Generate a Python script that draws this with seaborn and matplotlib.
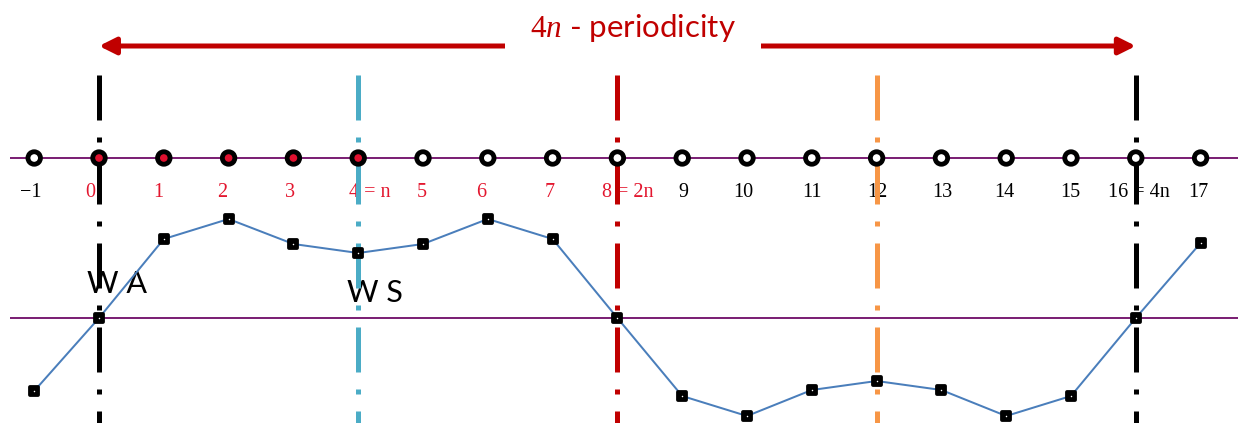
import matplotlib
matplotlib.use("Agg")
import matplotlib.pyplot as plt
from matplotlib.markers import MarkerStyle
from matplotlib.patches import FancyArrowPatch
import numpy as np
import pandas as pd
import seaborn as sns

# ---- data -------------------------------------------------------------
sample_index = [-1, 0, 1, 2, 3, 4, 5, 6, 7, 8, 9, 10, 11, 12, 13, 14, 15, 16, 17]
signal = [-0.73, 0.0, 0.79, 0.99, 0.74, 0.65, 0.74, 0.99, 0.79, 0.0,
          -0.78, -0.98, -0.72, -0.63, -0.72, -0.98, -0.78, 0.0, 0.75]
tick_labels = ["\u22121", "0", "1", "2", "3", "4 = n", "5", "6", "7", "8 = 2n",
               "9", "10", "11", "12", "13", "14", "15", "16 = 4n", "17"]
window = [False, True, True, True, True, True, False, False, False, False,
          False, False, False, False, False, False, False, False, False]
label_in_period = [False] + [True] * 9 + [False] * 9
marker_lines = [0, 4, 8, 12, 16]
marker_line_colors = ["#000000", "#4BACC6", "#C00000", "#F79646", "#000000"]
period_start, period_end = 0, 16
point_annotations = [("W A", 0), ("W S", 4)]

# ---- layout (axes units: 1 sample step horizontally, 100 px vertically) ---
PX = 64.8                       # pixels per sample step
X0 = 99.0                       # pixel column of sample 0
def px_x(p):
    return (p - X0) / PX
def px_y(p):
    return (318.0 - p) / 100.0

label_dx = [-3, -9, -6, -6, -3, 12, -1, -7, -3, 10, 1, -4, 0, 1, 1, -2, -1, 3, -2]
annot_pos = {"W A": (87, 293), "W S": (347, 302)}

RED = "#C00000"
LABEL_RED = "#E3172F"
FILL_RED = "#E0102F"
PURPLE = "#7C2275"
BLUE = "#4A7EBB"

sns.set_theme(style="white")
plt.rcParams["lines.scale_dashes"] = False
plt.rcParams["mathtext.fontset"] = "custom"
plt.rcParams["mathtext.it"] = "Liberation Serif:italic"
plt.rcParams["mathtext.rm"] = "Liberation Serif"

fig = plt.figure(figsize=(12.41, 4.23), dpi=100)
ax = fig.add_axes([0, 0, 1, 1])
ax.set_xlim(px_x(0), px_x(1241))
ax.set_ylim(px_y(423), px_y(0))
ax.set_axis_off()

line_y = px_y(158)
pt = 100 / 72.0  # px per point

# horizontal axes of the two rows
for yy in (line_y, 0.0):
    ax.plot([px_x(10), px_x(1238)], [yy, yy], color=PURPLE, lw=2 / pt, zorder=2,
            solid_capstyle="butt")

# sample labels on the number line
for i, lab, dx, red in zip(sample_index, tick_labels, label_dx, label_in_period):
    ax.text(i + dx / PX, px_y(192), lab, ha="center", va="center",
            fontsize=14.5, family="Liberation Serif",
            color=LABEL_RED if red else "black", zorder=1)

# dash-dot markers of special samples
dash = (0, (45 / pt, 17 / pt, 5 / pt, 17 / pt))
for xv, c in zip(marker_lines, marker_line_colors):
    ax.plot([xv, xv], [px_y(75), px_y(430)], color=c, lw=5 / pt,
            linestyle=dash, dash_capstyle="butt", zorder=3)

# number line samples
top = pd.DataFrame({"n": sample_index, "lvl": line_y, "inside": window})
sns.scatterplot(data=top, x="n", y="lvl", hue="inside",
                palette={True: FILL_RED, False: "white"},
                s=(12.5 / pt) ** 2, edgecolor="black", linewidth=4.8 / pt,
                legend=False, ax=ax, zorder=6)

# sampled waveform
sig = pd.DataFrame({"n": sample_index, "value": signal})
sns.lineplot(data=sig, x="n", y="value", color=BLUE, lw=2 / pt,
             marker=MarkerStyle("s", joinstyle="round"),
             markersize=7.5 / pt, markeredgewidth=3.8 / pt,
             markerfacecolor="black", markeredgecolor="black",
             ax=ax, zorder=5)
ax.scatter(sig["n"], sig["value"], s=(1.5 / pt) ** 2, color="white",
           linewidths=0, zorder=7)

# symmetry annotations
for text, _ in point_annotations:
    xp, yp = annot_pos[text]
    ax.text(px_x(xp), px_y(yp), text, ha="left", va="baseline",
            fontsize=22, family="Lato", color="black", zorder=1)

# period arrow with caption
arrow = FancyArrowPatch((period_start, px_y(46)), (period_end, px_y(46)),
                        arrowstyle="<|-|>,head_length=10,head_width=5",
                        mutation_scale=1, lw=5 / pt, color=RED,
                        shrinkA=0, shrinkB=0, zorder=3)
ax.add_patch(arrow)
ax.text(px_x(633), px_y(28), r"$\mathit{4n}$ - periodicity", ha="center",
        va="center", fontsize=22.5, family="Lato", color=RED, zorder=4,
        bbox=dict(boxstyle="square,pad=0.8", fc="white", ec="none"))

fig.savefig("out.png", dpi=100)
